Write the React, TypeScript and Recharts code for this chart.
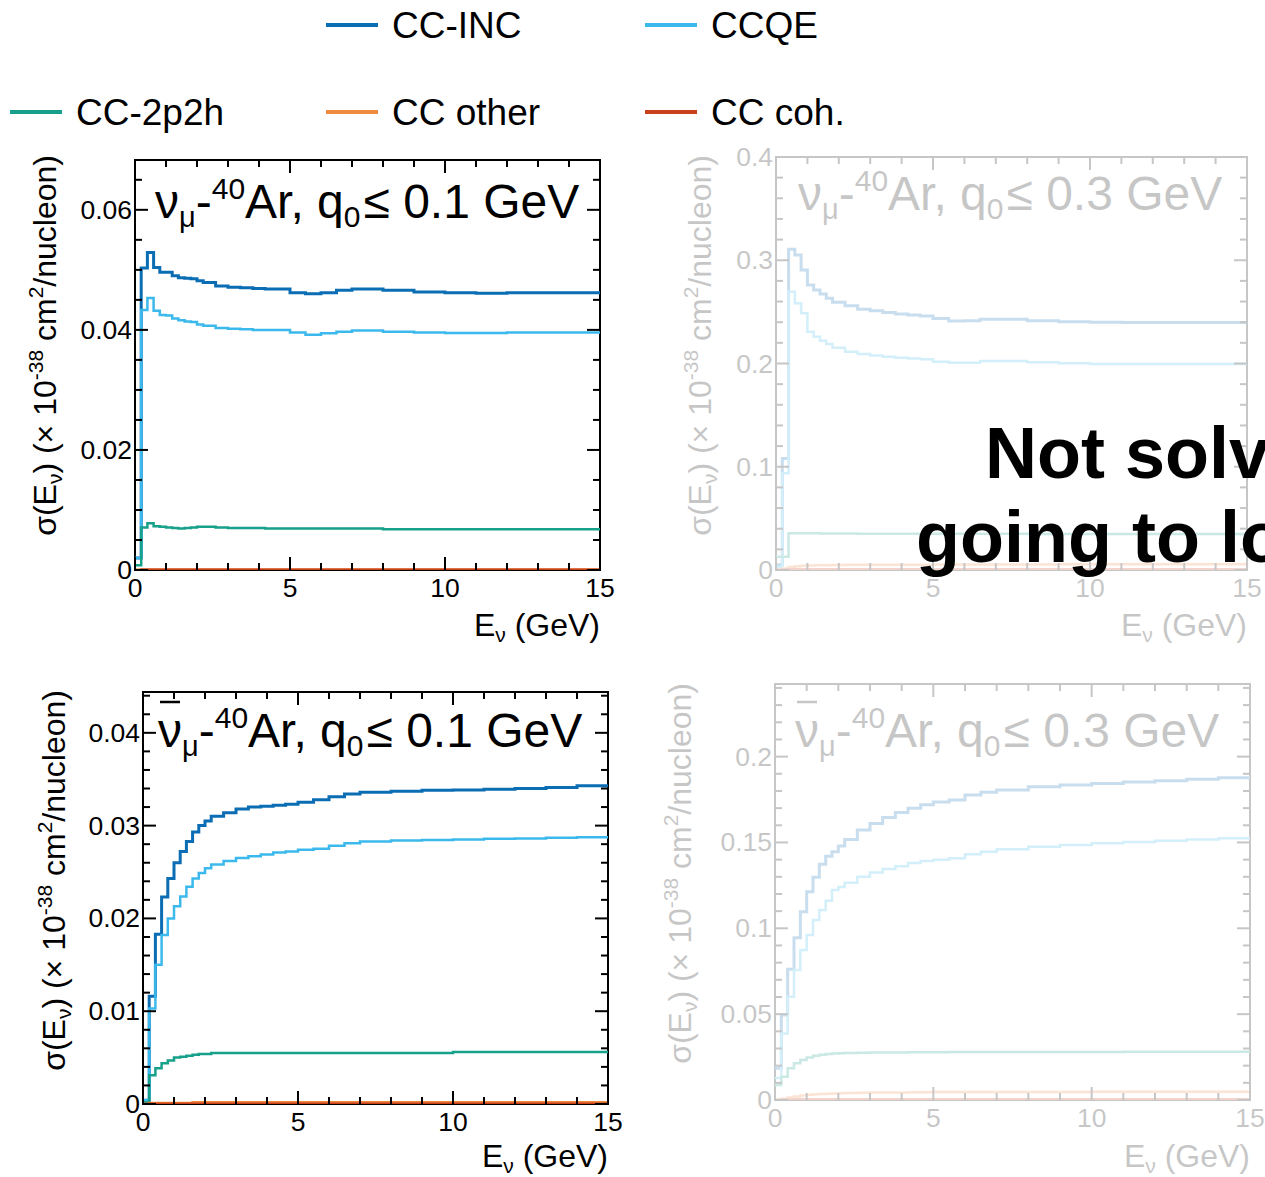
import React from "react";
import { LineChart, Line, XAxis, YAxis } from "recharts";

const FONT = '"Liberation Sans", Arial, Helvetica, sans-serif';
const INK = "#000";

// histogram bin edges (GeV), shared by every panel
const binEdges = [0, 0.2, 0.4, 0.6, 0.8, 1.0, 1.2, 1.4, 1.6, 1.8, 2.0, 2.2, 2.6, 3.0, 3.4, 3.8, 4.2, 4.6, 5.0, 5.5, 6.0, 6.5, 7, 8, 9, 10, 11, 12, 13, 14, 15];

const seriesKeys = ["inc", "qe", "mec", "other", "coh"];
const seriesNames = ["CC-INC", "CCQE", "CC-2p2h", "CC other", "CC coh."];
const seriesColors = ["#0b6eb4", "#3cb9ec", "#17a08a", "#f08a3c", "#c9401c"];

// nu_mu, q0 <= 0.1 GeV
const nuLowInc = [0.0020, 0.0503, 0.0529, 0.0504, 0.0496, 0.0496, 0.0490, 0.0487, 0.0486, 0.0485, 0.0482, 0.0479, 0.0473, 0.0471, 0.0470, 0.0469, 0.0468, 0.0468, 0.0462, 0.0460, 0.0462, 0.0466, 0.0468, 0.0466, 0.0463, 0.0462, 0.0461, 0.0462, 0.0462, 0.0462];
const nuLowQe = [0.0020, 0.0433, 0.0453, 0.0432, 0.0425, 0.0424, 0.0419, 0.0416, 0.0414, 0.0413, 0.0409, 0.0407, 0.0403, 0.0402, 0.0401, 0.0400, 0.0400, 0.0400, 0.03956, 0.03917, 0.03944, 0.0397, 0.0399, 0.0397, 0.03956, 0.0395, 0.0395, 0.03956, 0.03956, 0.03956];
const nuLowMec = [0.0008, 0.0071, 0.0078, 0.0073, 0.0072, 0.0071, 0.0070, 0.0069, 0.0070, 0.0071, 0.0072, 0.0072, 0.0071, 0.0070, 0.0070, 0.0070, 0.0069, 0.0069, 0.0069, 0.0069, 0.0069, 0.0069, 0.0069, 0.0068, 0.0068, 0.0068, 0.0068, 0.0068, 0.0068, 0.0068];
const nuLowOther = [0.0000, 0.0001, 0.0001, 0.0001, 0.0001, 0.0001, 0.0001, 0.0001, 0.0001, 0.0001, 0.0001, 0.0001, 0.0001, 0.0001, 0.0001, 0.0001, 0.0001, 0.0001, 0.0001, 0.0001, 0.0001, 0.0001, 0.0001, 0.0001, 0.0001, 0.0001, 0.0001, 0.0001, 0.0001, 0.0001];
const nuLowCoh = [0.0000, 0.00003, 0.00003, 0.00003, 0.00003, 0.00003, 0.00003, 0.00003, 0.00003, 0.00003, 0.00003, 0.00003, 0.00003, 0.00003, 0.00003, 0.00003, 0.00003, 0.00003, 0.00003, 0.00003, 0.00003, 0.00003, 0.00003, 0.00003, 0.00003, 0.00003, 0.00003, 0.00003, 0.00003, 0.00003];

// nu_mu, q0 <= 0.3 GeV
const nuHighInc = [0.0050, 0.1080, 0.3106, 0.3050, 0.2906, 0.2760, 0.2712, 0.2673, 0.2631, 0.2593, 0.2593, 0.2560, 0.2525, 0.2510, 0.2495, 0.2480, 0.2470, 0.2460, 0.2437, 0.2412, 0.2415, 0.2428, 0.2428, 0.2415, 0.2405, 0.2399, 0.2396, 0.2396, 0.2396, 0.2396];
const nuHighQe = [0.0030, 0.0936, 0.2696, 0.2583, 0.2486, 0.2308, 0.2260, 0.2221, 0.2189, 0.2153, 0.2153, 0.2115, 0.2092, 0.2077, 0.2066, 0.2055, 0.2048, 0.2040, 0.2018, 0.2008, 0.2008, 0.2024, 0.2024, 0.2011, 0.2002, 0.1995, 0.1995, 0.1995, 0.1995, 0.1995];
const nuHighMec = [0.0129, 0.0129, 0.0355, 0.0356, 0.0356, 0.0355, 0.0355, 0.0354, 0.0354, 0.0353, 0.0353, 0.0353, 0.0352, 0.0352, 0.0351, 0.0351, 0.0351, 0.0350, 0.0350, 0.0350, 0.0350, 0.0350, 0.0350, 0.0349, 0.0349, 0.0349, 0.0349, 0.0348, 0.0348, 0.0348];
const nuHighOther = [0.0003, 0.0015, 0.0030, 0.0036, 0.0040, 0.0043, 0.0045, 0.0046, 0.0047, 0.0048, 0.0049, 0.0050, 0.0050, 0.0051, 0.0051, 0.0052, 0.0052, 0.0052, 0.0053, 0.0053, 0.0053, 0.0054, 0.0054, 0.0054, 0.0055, 0.0055, 0.0055, 0.0055, 0.0056, 0.0056];
const nuHighCoh = [0.0002, 0.0006, 0.0007, 0.0008, 0.0008, 0.0008, 0.0008, 0.0008, 0.0008, 0.0008, 0.0008, 0.0008, 0.0008, 0.0008, 0.0008, 0.0008, 0.0008, 0.0008, 0.0008, 0.0008, 0.0008, 0.0008, 0.0008, 0.0008, 0.0008, 0.0008, 0.0008, 0.0008, 0.0008, 0.0008];

// anti-nu_mu, q0 <= 0.1 GeV
const antiLowInc = [0.0004, 0.0116, 0.0183, 0.0223, 0.0243, 0.0260, 0.0272, 0.0283, 0.0293, 0.0300, 0.0305, 0.0310, 0.0314, 0.0318, 0.0320, 0.0321, 0.0322, 0.0323, 0.03253, 0.03278, 0.0331, 0.03342, 0.0336, 0.03371, 0.0338, 0.03385, 0.03393, 0.0340, 0.0341, 0.03429];
const antiLowQe = [0.0004, 0.0103, 0.0150, 0.0182, 0.0200, 0.0213, 0.02235, 0.0234, 0.0243, 0.0249, 0.0254, 0.0258, 0.0262, 0.0265, 0.0267, 0.0269, 0.0271, 0.0272, 0.02739, 0.0275, 0.02782, 0.0281, 0.02828, 0.0284, 0.02845, 0.0285, 0.02858, 0.0286, 0.02868, 0.02875];
const antiLowMec = [0.0002, 0.0031, 0.00385, 0.0044, 0.0047, 0.0050, 0.0051, 0.0052, 0.0053, 0.0054, 0.0054, 0.0055, 0.0055, 0.0055, 0.0055, 0.0055, 0.0055, 0.0055, 0.0055, 0.0055, 0.0055, 0.0055, 0.0055, 0.0055, 0.0055, 0.0056, 0.0056, 0.0056, 0.0056, 0.0056];
const antiLowOther = [0.0000, 0.0001, 0.0001, 0.0001, 0.0001, 0.0001, 0.0001, 0.0001, 0.0002, 0.0002, 0.0002, 0.0002, 0.0002, 0.0002, 0.0002, 0.0002, 0.0002, 0.0002, 0.0002, 0.0002, 0.0002, 0.0002, 0.0002, 0.0002, 0.0002, 0.0002, 0.0002, 0.0002, 0.0002, 0.0002];
const antiLowCoh = [0.0000, 0.00003, 0.00003, 0.00003, 0.00003, 0.00003, 0.00003, 0.00003, 0.00003, 0.00003, 0.00003, 0.00003, 0.00003, 0.00003, 0.00003, 0.00003, 0.00003, 0.00003, 0.00003, 0.00003, 0.00003, 0.00003, 0.00003, 0.00003, 0.00003, 0.00003, 0.00003, 0.00003, 0.00003, 0.00003];

// anti-nu_mu, q0 <= 0.3 GeV
const antiHighInc = [0.0185, 0.0495, 0.0761, 0.0945, 0.1097, 0.1213, 0.1297, 0.1373, 0.1420, 0.1446, 0.1480, 0.1518, 0.1573, 0.1610, 0.1645, 0.1675, 0.1700, 0.1720, 0.1735, 0.1747, 0.1776, 0.1792, 0.1805, 0.1825, 0.1835, 0.1844, 0.1852, 0.1860, 0.1868, 0.1877];
const antiHighQe = [0.0128, 0.0388, 0.0602, 0.0757, 0.0874, 0.0961, 0.1048, 0.1107, 0.1161, 0.1223, 0.1240, 0.1266, 0.1301, 0.1325, 0.1345, 0.1362, 0.1380, 0.1392, 0.1400, 0.1408, 0.1431, 0.1446, 0.1460, 0.1475, 0.1485, 0.1495, 0.1503, 0.1510, 0.1518, 0.1524];
const antiHighMec = [0.0087, 0.0136, 0.0185, 0.0214, 0.0233, 0.0247, 0.0258, 0.0264, 0.0268, 0.0271, 0.0273, 0.0274, 0.0275, 0.0276, 0.0277, 0.0277, 0.0278, 0.0278, 0.0278, 0.0279, 0.0279, 0.0279, 0.0280, 0.0280, 0.0280, 0.0280, 0.0281, 0.0281, 0.0281, 0.0281];
const antiHighOther = [0.0002, 0.0008, 0.0015, 0.0021, 0.0026, 0.0030, 0.0033, 0.0035, 0.0037, 0.0038, 0.0040, 0.0041, 0.0042, 0.0043, 0.0044, 0.0044, 0.0045, 0.0045, 0.0046, 0.0046, 0.0046, 0.0047, 0.0047, 0.0047, 0.0047, 0.0048, 0.0048, 0.0048, 0.0048, 0.0048];
const antiHighCoh = [0.0001, 0.0003, 0.0004, 0.0004, 0.0004, 0.0004, 0.0004, 0.0004, 0.0004, 0.0004, 0.0004, 0.0004, 0.0004, 0.0004, 0.0004, 0.0004, 0.0004, 0.0004, 0.0004, 0.0004, 0.0004, 0.0004, 0.0004, 0.0004, 0.0004, 0.0004, 0.0004, 0.0004, 0.0004, 0.0004];

const xTicks = [0, 1, 2, 3, 4, 5, 6, 7, 8, 9, 10, 11, 12, 13, 14, 15];
const xLabels = [0, 5, 10, 15];

const panels = [
  {
    left: 135, top: 160, width: 465, height: 410, yMax: 0.0683, yStep: 0.005,
    yLabels: ["0", "0.02", "0.04", "0.06"], q0: "0.1", anti: false, faded: false,
    series: [nuLowInc, nuLowQe, nuLowMec, nuLowOther, nuLowCoh],
    titleX: 155, titleY: 218, yTitleX: 56, yTitleY: 155, xTitleX: 600, xTitleY: 636,
  },
  {
    left: 776, top: 157, width: 471, height: 413, yMax: 0.4, yStep: 0.02,
    yLabels: ["0", "0.1", "0.2", "0.3", "0.4"], q0: "0.3", anti: false, faded: true,
    series: [nuHighInc, nuHighQe, nuHighMec, nuHighOther, nuHighCoh],
    titleX: 798, titleY: 210, yTitleX: 711, yTitleY: 155, xTitleX: 1247, xTitleY: 636,
  },
  {
    left: 143, top: 692, width: 465, height: 412, yMax: 0.0444, yStep: 0.002,
    yLabels: ["0", "0.01", "0.02", "0.03", "0.04"], q0: "0.1", anti: true, faded: false,
    series: [antiLowInc, antiLowQe, antiLowMec, antiLowOther, antiLowCoh],
    titleX: 158, titleY: 747, yTitleX: 65, yTitleY: 690, xTitleX: 608, xTitleY: 1167,
  },
  {
    left: 775, top: 684, width: 475, height: 416, yMax: 0.2423, yStep: 0.01,
    yLabels: ["0", "0.05", "0.1", "0.15", "0.2"], q0: "0.3", anti: true, faded: true,
    series: [antiHighInc, antiHighQe, antiHighMec, antiHighOther, antiHighCoh],
    titleX: 795, titleY: 747, yTitleX: 691, yTitleY: 683, xTitleX: 1250, xTitleY: 1167,
  },
];

const legendRows = [
  { y: 25, items: [{ x: 326, idx: 0 }, { x: 645, idx: 1 }] },
  { y: 112, items: [{ x: 10, idx: 2 }, { x: 326, idx: 3 }, { x: 645, idx: 4 }] },
];

function Panel({ p }) {
  // y-axis band width on the left, x-axis band height below
  const axW = 150, axH = 90, mt = 20, mr = 40;
  const { left, top, width, height } = p;
  const majors = p.yLabels.map(Number);
  const yTicks = [];
  for (let i = 0; i * p.yStep <= p.yMax + 1e-9; i++) yTicks.push(+(i * p.yStep).toFixed(4));
  const rows = binEdges.map((e, i) => {
    const j = Math.min(i, p.series[0].length - 1);
    const r = { e };
    seriesKeys.forEach((k, s) => (r[k] = p.series[s][j]));
    return r;
  });

  const yTick = (props) => {
    const { x, y, payload } = props;
    const mi = majors.findIndex((m) => Math.abs(m - payload.value) < 1e-6);
    const len = mi >= 0 ? 13 : 7;
    return (
      <g>
        <line x1={x} x2={x + len} y1={y} y2={y} stroke={INK} strokeWidth={2} />
        <line x1={x + width} x2={x + width - len} y1={y} y2={y} stroke={INK} strokeWidth={2} />
        {mi >= 0 && (
          <text x={x - 3} y={y + 9} textAnchor="end" fontSize={26.5} fontFamily={FONT} fill={INK}>
            {p.yLabels[mi]}
          </text>
        )}
      </g>
    );
  };

  const xTick = (props) => {
    const { x, y, payload } = props;
    const major = xLabels.includes(payload.value);
    const len = major ? 13 : 7;
    return (
      <g>
        <line x1={x} x2={x} y1={y} y2={y - len} stroke={INK} strokeWidth={2} />
        <line x1={x} x2={x} y1={y - height} y2={y - height + len} stroke={INK} strokeWidth={2} />
        {major && (
          <text x={x} y={y + 27} textAnchor="middle" fontSize={26.5} fontFamily={FONT} fill={INK}>
            {payload.value}
          </text>
        )}
      </g>
    );
  };

  return (
    <div style={{ position: "absolute", left: 0, top: 0, width: 1265, height: 1177, opacity: p.faded ? 0.22 : 1 }}>
      <svg width={1265} height={1177} style={{ position: "absolute", left: 0, top: 0 }}>
        <rect x={left} y={top} width={width} height={height} fill="none" stroke={INK} strokeWidth={2} />
        <g fontFamily={FONT} fill={INK}>
          {p.anti && <line x1={p.titleX + 2} x2={p.titleX + 22} y1={p.titleY - 45} y2={p.titleY - 45} stroke={INK} strokeWidth={2.5} />}
          <text x={p.titleX} y={p.titleY} fontSize={48}>
            ν<tspan fontSize={29} dy={9}>μ</tspan>
            <tspan dy={-9}>-</tspan>
            <tspan fontSize={30} dy={-19}>40</tspan>
            <tspan dy={19}>Ar, q</tspan>
            <tspan fontSize={30} dy={9}>0</tspan>
            <tspan dy={-9} dx={3}>≤ {p.q0} GeV</tspan>
          </text>
          <text transform={`translate(${p.yTitleX},${p.yTitleY}) rotate(-90)`} textAnchor="end" fontSize={32}>
            σ(E<tspan fontSize={21} dy={6}>ν</tspan>
            <tspan dy={-6}>) (× 10</tspan>
            <tspan fontSize={21} dy={-13}>-38</tspan>
            <tspan dy={13}> cm</tspan>
            <tspan fontSize={21} dy={-13}>2</tspan>
            <tspan dy={13}>/nucleon)</tspan>
          </text>
          <text x={p.xTitleX} y={p.xTitleY} textAnchor="end" fontSize={32}>
            E<tspan fontSize={21} dy={6}>ν</tspan>
            <tspan dy={-6}> (GeV)</tspan>
          </text>
        </g>
      </svg>
      <div style={{ position: "absolute", left: left - axW, top: top - mt }}>
        <LineChart width={width + axW + mr} height={height + mt + axH} data={rows} margin={{ top: mt, right: mr, bottom: 0, left: 0 }}>
          <XAxis dataKey="e" type="number" domain={[0, 15]} ticks={xTicks} interval={0} height={axH}
            axisLine={false} tickLine={false} tickSize={0} tickMargin={0} tick={xTick} allowDataOverflow />
          <YAxis type="number" domain={[0, p.yMax]} ticks={yTicks} interval={0} width={axW}
            axisLine={false} tickLine={false} tickSize={0} tickMargin={0} tick={yTick} allowDataOverflow />
          {seriesKeys.map((k, s) => (
            <Line key={k} type="stepAfter" dataKey={k} stroke={seriesColors[s]} strokeWidth={s === 0 ? 3 : 2.5}
              dot={false} activeDot={false} isAnimationActive={false} />
          ))}
        </LineChart>
      </div>
    </div>
  );
}

export default function App() {
  return (
    <div style={{ position: "absolute", left: 0, top: 0, width: 1265, height: 1177, overflow: "hidden", background: "#fff" }}>
      {panels.map((p, i) => (
        <Panel key={i} p={p} />
      ))}
      <svg width={1265} height={1177} style={{ position: "absolute", left: 0, top: 0 }}>
        <g fontFamily={FONT} fill={INK}>
          {legendRows.map((row) =>
            row.items.map((it) => (
              <g key={it.idx}>
                <line x1={it.x} x2={it.x + 52} y1={row.y} y2={row.y} stroke={seriesColors[it.idx]} strokeWidth={4} />
                <text x={it.x + 66} y={row.y + 13} fontSize={37}>{seriesNames[it.idx]}</text>
              </g>
            ))
          )}
          <text x={985} y={478} fontSize={72} fontWeight="bold">Not solv</text>
          <text x={916} y={562} fontSize={72} fontWeight="bold">going to lo</text>
        </g>
      </svg>
    </div>
  );
}
